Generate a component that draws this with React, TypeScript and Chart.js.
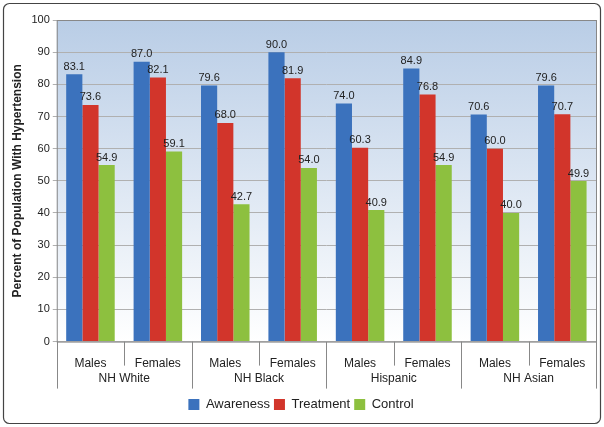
import React, { useEffect, useRef } from "react";
import { Chart, registerables } from "chart.js";
Chart.register(...registerables);

const subLabels = ["Males", "Females", "Males", "Females", "Males", "Females", "Males", "Females"];
const groups = ["NH White", "NH Black", "Hispanic", "NH Asian"];
const awareness = [83.1, 87.0, 79.6, 90.0, 74.0, 84.9, 70.6, 79.6];
const treatment = [73.6, 82.1, 68.0, 81.9, 60.3, 76.8, 60.0, 70.7];
const control = [54.9, 59.1, 42.7, 54.0, 40.9, 54.9, 40.0, 49.9];

export default function App() {
  const ref = useRef<HTMLCanvasElement>(null);
  useEffect(() => {
    document.body.style.margin = "0";
    const font = "Arial, 'Liberation Sans', sans-serif";
    const plugin = {
      id: "extras",
      beforeDraw(c: any) {
        const { ctx, chartArea: a } = c;
        ctx.save();
        const g = ctx.createLinearGradient(0, a.top, 0, a.bottom);
        g.addColorStop(0, "#b9cde6");
        g.addColorStop(1, "#ffffff");
        ctx.fillStyle = g;
        ctx.fillRect(a.left, a.top, a.right - a.left, a.bottom - a.top);
        ctx.restore();
      },
      afterDraw(c: any) {
        const { ctx, chartArea: a } = c;
        ctx.save();
        ctx.strokeStyle = "#888";
        ctx.lineWidth = 1;
        ctx.strokeRect(a.left + 0.5, a.top + 0.5, a.right - a.left, a.bottom - a.top);
        const step = (a.right - a.left) / subLabels.length;
        for (let i = 0; i <= subLabels.length; i++) {
          const px = Math.round(a.left + i * step) + 0.5;
          ctx.beginPath();
          ctx.moveTo(px, a.bottom);
          ctx.lineTo(px, a.bottom + (i % 2 === 0 ? 47 : 24));
          ctx.stroke();
        }
        ctx.fillStyle = "#222";
        ctx.font = `12px ${font}`;
        ctx.textAlign = "center";
        ctx.textBaseline = "middle";
        groups.forEach((gname, i) => {
          ctx.fillText(gname, a.left + (2 * i + 1) * step, a.bottom + 37);
        });
        ctx.font = `11px ${font}`;
        ctx.textBaseline = "bottom";
        c.data.datasets.forEach((ds: any, di: number) => {
          c.getDatasetMeta(di).data.forEach((b: any, j: number) => {
            ctx.fillText(ds.data[j].toFixed(1), b.x, b.y - 2);
          });
        });
        ctx.strokeStyle = "#444";
        ctx.lineWidth = 1.2;
        ctx.beginPath();
        (ctx as any).roundRect(3.5, 3.5, 597, 420, 6);
        ctx.stroke();
        ctx.restore();
      },
    };
    const mk = (data: number[], color: string, label: string) => ({
      label, data, backgroundColor: color, borderColor: color, borderWidth: 0,
      categoryPercentage: 0.72, barPercentage: 1.0,
    });
    const chart = new Chart(ref.current!, {
      type: "bar",
      data: {
        labels: subLabels,
        datasets: [
          mk(awareness, "#3b72bd", "Awareness"),
          mk(treatment, "#d2352b", "Treatment"),
          mk(control, "#8dc03f", "Control"),
        ],
      },
      options: {
        animation: false,
        responsive: false,
        layout: { padding: { left: 6, right: 8, top: 20, bottom: 6 } },
        plugins: {
          tooltip: { enabled: false },
          legend: {
            position: "bottom",
            labels: { boxWidth: 11, boxHeight: 11, font: { size: 13, family: font }, color: "#222", padding: 4 },
          },
        },
        scales: {
          x: {
            grid: { display: false },
            border: { display: false },
            ticks: { color: "#222", font: { size: 12, family: font }, padding: 7 },
            afterFit: (s: any) => { s.height += 16; },
          },
          y: {
            min: 0, max: 100,
            ticks: { stepSize: 10, color: "#222", font: { size: 11, family: font } },
            grid: { color: "#b0b0b0", drawTicks: true, tickLength: 4 },
            border: { display: false },
            title: { display: true, text: "Percent of Population With Hypertension", font: { size: 12, weight: "bold", family: font }, color: "#222" },
          },
        },
      },
      plugins: [plugin],
    } as any);
    return () => chart.destroy();
  }, []);
  return <canvas ref={ref} width={604} height={427} style={{ display: "block" }} />;
}
